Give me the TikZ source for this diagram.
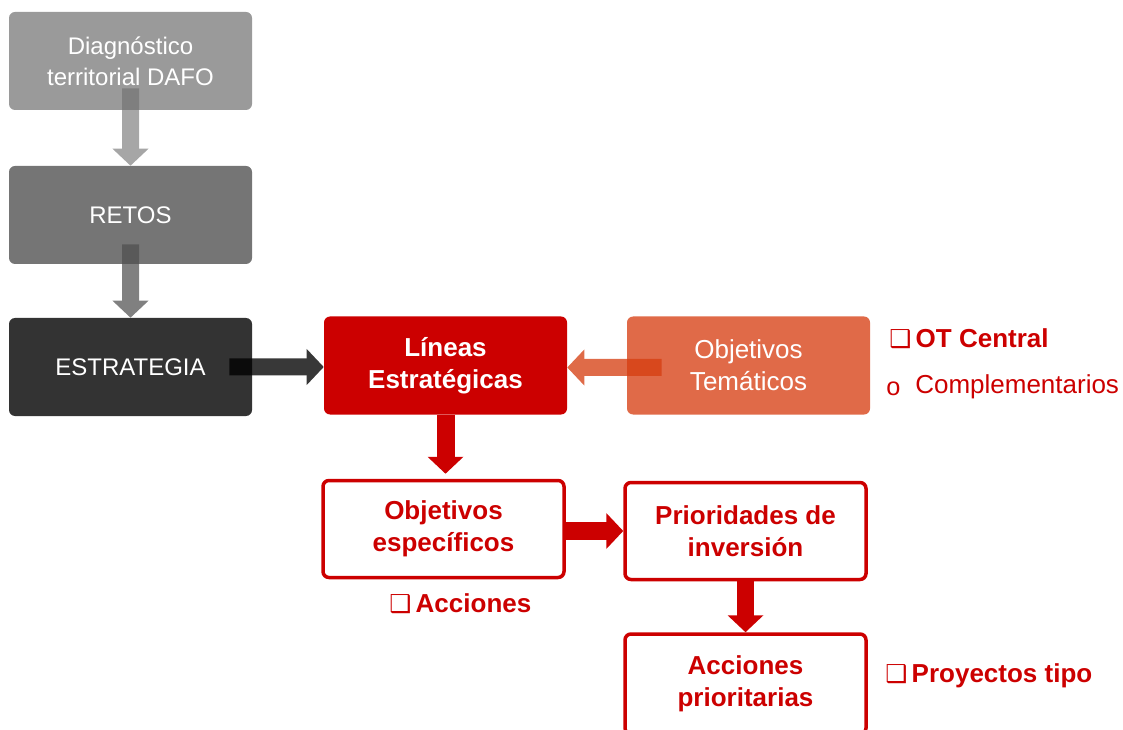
\documentclass[tikz,border=0pt]{standalone}
\usepackage{fontspec}
\setmainfont{Liberation Sans}
\newfontfamily\symfont{DejaVu Sans}
\usetikzlibrary{positioning}
\usetikzlibrary{calc}
\usetikzlibrary{arrows.meta}
\newlength\pxu
\setlength\pxu{0.75pt}
\definecolor{rojo}{HTML}{CC0000}
\definecolor{naranja}{HTML}{E06A48}
\definecolor{grisA}{HTML}{9A9A9A}
\definecolor{grisB}{HTML}{757575}
\definecolor{grisC}{HTML}{333333}
\definecolor{flechaA}{HTML}{6F6F6F}
\definecolor{flechaB}{HTML}{4F4F4F}
\definecolor{flechaT}{HTML}{D63E11}
\newcommand{\casilla}{{\symfont\fontsize{18.5}{20}\selectfont ❑}\,}
\tikzset{every picture/.style={x=\pxu,y=-\pxu},
box/.style={minimum width=243\pxu,minimum height=98\pxu,rounded corners=6\pxu,align=center,inner sep=0pt,text=white,font=\fontsize{18}{23.5}\selectfont},
redbox/.style={box,fill=rojo,font=\fontsize{19.5}{24}\selectfont\bfseries},
outbox/.style={box,minimum width=241\pxu,minimum height=97\pxu,draw=rojo,line width=3.5\pxu,fill=white,text=rojo,font=\fontsize{19.5}{24}\selectfont\bfseries},
blockarrow/.style={line width=12.75pt,-{Triangle[width=26.25pt,length=12.75pt]}},
bullet/.style={anchor=west,inner sep=0pt,text=rojo,font=\fontsize{19.5}{24}\selectfont}}

\begin{document}
\begin{tikzpicture}
\useasboundingbox (0,0) rectangle (1123,730);
\foreach \n/\y/\c/\t in {diag/61/grisA/{Diagn\'ostico\\territorial DAFO}, retos/215/grisB/RETOS, estr/367/grisC/ESTRATEGIA} {
\node (\n) at (130.5,\y) [box,fill=\c] {\t};
}
\node (lin) at (445.5,365.5) [redbox] {L\'ineas\\Estrat\'egicas};
\node (otem) at (748.5,365.5) [box,fill=naranja,font=\fontsize{19.5}{24}\selectfont] {Objetivos\\Tem\'aticos};
\node (oesp) at (443.5,529) [outbox] {Objetivos\\espec\'ificos};
\node (prior) at (745.5,531) [outbox] {Prioridades de\\inversi\'on};
\node (apri) at (745.5,684) [outbox,minimum height=100\pxu] {Acciones\\prioritarias};

\node (ot) at (889,339) [bullet] {\casilla\textbf{OT Central}};
\node (bo) at (886,389) [bullet,font=\fontsize{19}{20}\selectfont] {o};
\node (comp) at (915,387) [bullet] {Complementarios};
\node (acc) at (389,604) [bullet] {\casilla\textbf{Acciones}};
\node (proy) at (885,676) [bullet] {\casilla\textbf{Proyectos tipo}};

\begin{scope}[transparency group,opacity=.62]
\draw[blockarrow,draw=flechaA] ($(diag.south)+(0,-22)$) -- (retos.north);
\end{scope}
\begin{scope}[transparency group,opacity=.72]
\draw[blockarrow,draw=flechaB] ($(retos.south)+(0,-20)$) -- (estr.north);
\end{scope}
\begin{scope}[transparency group,opacity=.78]
\draw[blockarrow,draw=black] ($(estr.east)+(-23,0)$) -- (lin.west |- estr.east);
\end{scope}
\begin{scope}[transparency group,opacity=.77]
\draw[blockarrow,draw=flechaT] ($(otem.west)+(35,2)$) -- ($(lin.east)+(0,2)$);
\end{scope}
\draw[blockarrow,draw=rojo,line width=13.5pt] (lin.south) -- ($(lin.south |- oesp.north)+(0,-5)$);
\draw[blockarrow,draw=rojo,line width=13.5pt] (oesp.east |- prior.west) -- (prior.west);
\draw[blockarrow,draw=rojo] (prior.south) -- (apri.north);
\end{tikzpicture}
\end{document}
